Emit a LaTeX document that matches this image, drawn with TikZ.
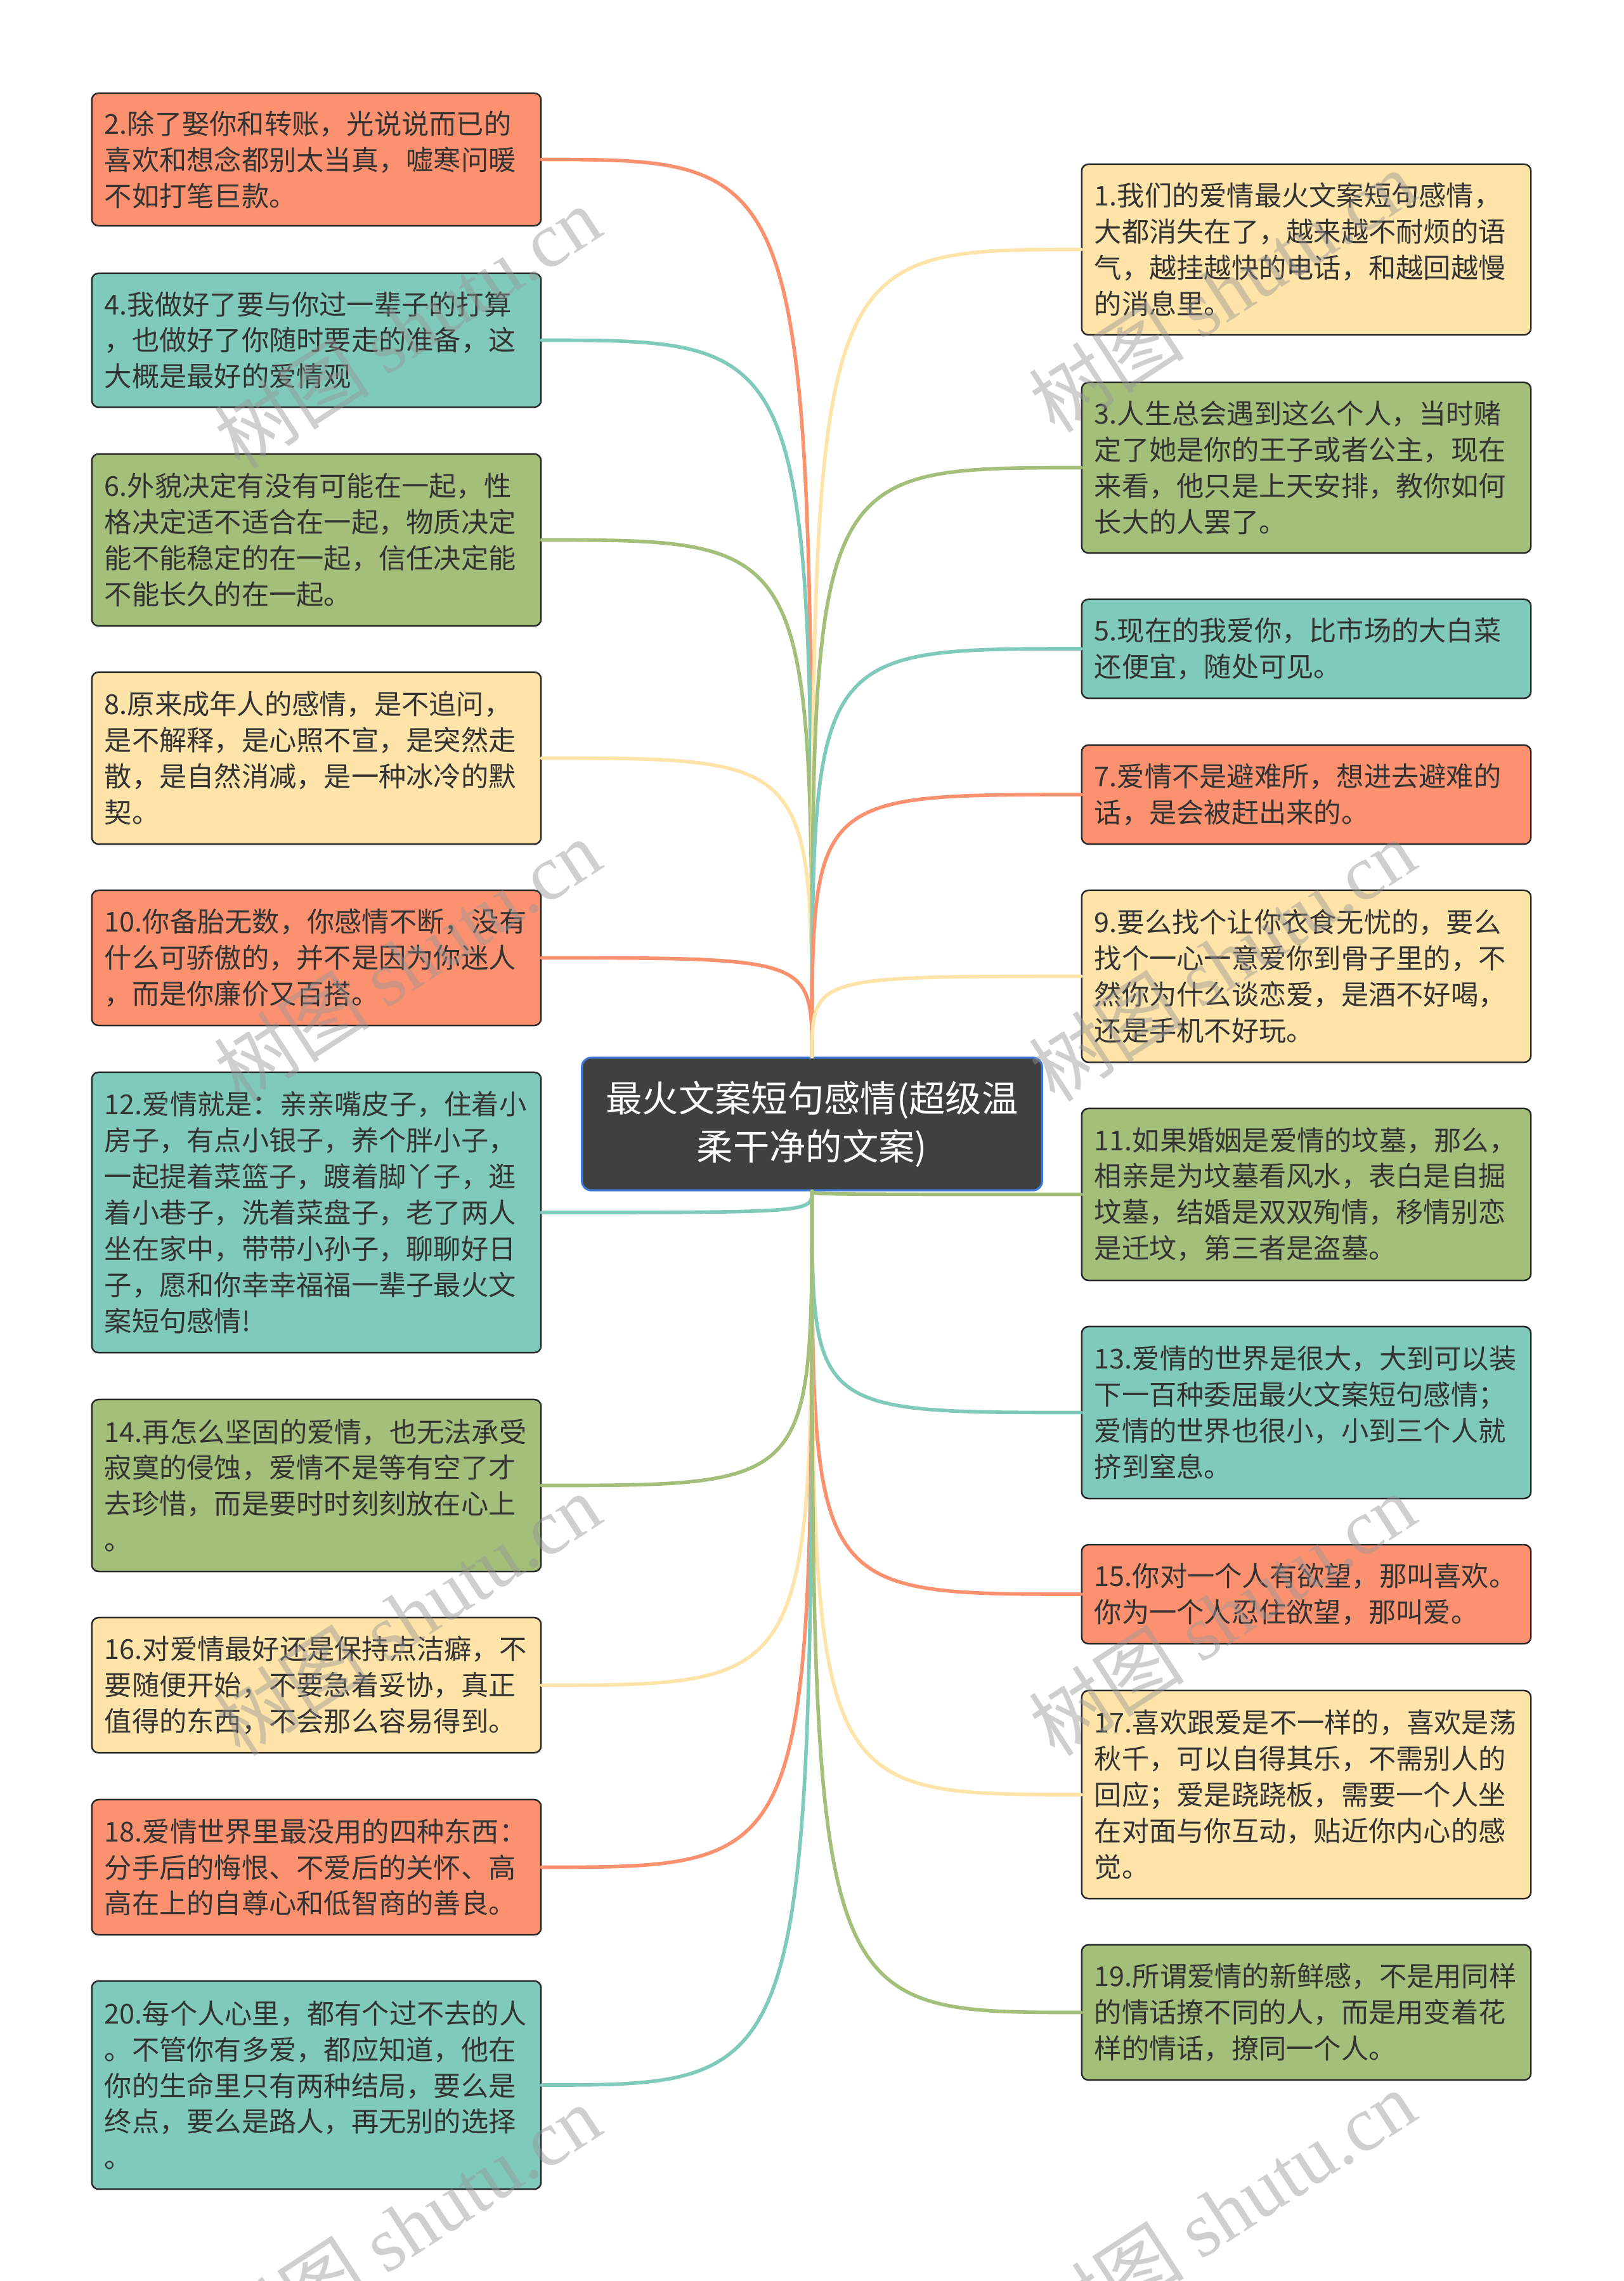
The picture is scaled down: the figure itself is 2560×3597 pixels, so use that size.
\documentclass[tikz,border=0pt]{standalone}
\usepackage{fontspec}
\setmainfont{Noto Sans CJK SC}
\newfontfamily\wmlatin{Liberation Serif}
\definecolor{cSal}{RGB}{252,145,112}
\definecolor{cTeal}{RGB}{128,202,188}
\definecolor{cGreen}{RGB}{163,191,122}
\definecolor{cYel}{RGB}{255,228,170}
\definecolor{boxline}{RGB}{40,40,40}
\definecolor{boxtext}{RGB}{51,51,51}
\definecolor{centerfill}{RGB}{64,64,64}
\definecolor{centerline}{RGB}{60,120,216}
\definecolor{wmgray}{RGB}{150,150,150}
\begin{document}
\begin{tikzpicture}[x=0.01cm,y=-0.01cm,
  box/.style={draw=boxline, line width=0.7pt, rounded corners=3pt,
    text width=6.68cm, inner xsep=0.2cm, inner ysep=0pt, align=left,
    text=boxtext, font=\fontsize{12.3pt}{16.2pt}\selectfont},
  centerbox/.style={draw=centerline, fill=centerfill, line width=0.9pt,
    rounded corners=4pt, minimum width=7.25cm, minimum height=2.09cm,
    align=center, text=white, font=\fontsize{16.3pt}{21.6pt}\selectfont},
  conn/.style={line width=1.6pt, line cap=round},
  wm/.style={rotate=33, text=wmgray, opacity=0.45,
    font=\fontsize{35pt}{38pt}\selectfont}]
\useasboundingbox[fill=white] (0,0) rectangle (2560,3597);

\node[centerbox] (c) at (1280.5,1772.5) {最火文案短句感情(超级温\\柔干净的文案)};

% left column
\node[box, fill=cSal, minimum height=2.09cm] (b2) at (499,251.5)
 {2.除了娶你和转账，光说说而已的\\喜欢和想念都别太当真，嘘寒问暖\\不如打笔巨款。};
\node[box, fill=cTeal, minimum height=2.11cm] (b4) at (499,536.5)
 {4.我做好了要与你过一辈子的打算\\，也做好了你随时要走的准备，这\\大概是最好的爱情观};
\node[box, fill=cGreen, minimum height=2.71cm] (b6) at (499,851.5)
 {6.外貌决定有没有可能在一起，性\\格决定适不适合在一起，物质决定\\能不能稳定的在一起，信任决定能\\不能长久的在一起。};
\node[box, fill=cYel, minimum height=2.71cm] (b8) at (499,1195.5)
 {8.原来成年人的感情，是不追问，\\是不解释，是心照不宣，是突然走\\散，是自然消减，是一种冰冷的默\\契。};
\node[box, fill=cSal, minimum height=2.13cm] (b10) at (499,1510.5)
 {10.你备胎无数，你感情不断，没有\\什么可骄傲的，并不是因为你迷人\\，而是你廉价又百搭。};
\node[box, fill=cTeal, minimum height=4.42cm] (b12) at (499,1912)
 {12.爱情就是：亲亲嘴皮子，住着小\\房子，有点小银子，养个胖小子，\\一起提着菜篮子，踱着脚丫子，逛\\着小巷子，洗着菜盘子，老了两人\\坐在家中，带带小孙子，聊聊好日\\子，愿和你幸幸福福一辈子最火文\\案短句感情!};
\node[box, fill=cGreen, minimum height=2.71cm] (b14) at (499,2342.5)
 {14.再怎么坚固的爱情，也无法承受\\寂寞的侵蚀，爱情不是等有空了才\\去珍惜，而是要时时刻刻放在心上\\。};
\node[box, fill=cYel, minimum height=2.13cm] (b16) at (499,2657.5)
 {16.对爱情最好还是保持点洁癖，不\\要随便开始，不要急着妥协，真正\\值得的东西，不会那么容易得到。};
\node[box, fill=cSal, minimum height=2.13cm] (b18) at (499,2944.5)
 {18.爱情世界里最没用的四种东西：\\分手后的悔恨、不爱后的关怀、高\\高在上的自尊心和低智商的善良。};
\node[box, fill=cTeal, minimum height=3.28cm] (b20) at (499,3288)
 {20.每个人心里，都有个过不去的人\\。不管你有多爱，都应知道，他在\\你的生命里只有两种结局，要么是\\终点，要么是路人，再无别的选择\\。};

% right column
\node[box, fill=cYel, minimum height=2.69cm] (b1) at (2060,393.5)
 {1.我们的爱情最火文案短句感情，\\大都消失在了，越来越不耐烦的语\\气，越挂越快的电话，和越回越慢\\的消息里。};
\node[box, fill=cGreen, minimum height=2.69cm] (b3) at (2060,737.5)
 {3.人生总会遇到这么个人，当时赌\\定了她是你的王子或者公主，现在\\来看，他只是上天安排，教你如何\\长大的人罢了。};
\node[box, fill=cTeal, minimum height=1.56cm] (b5) at (2060,1023)
 {5.现在的我爱你，比市场的大白菜\\还便宜，随处可见。};
\node[box, fill=cSal, minimum height=1.56cm] (b7) at (2060,1253)
 {7.爱情不是避难所，想进去避难的\\话，是会被赶出来的。};
\node[box, fill=cYel, minimum height=2.71cm] (b9) at (2060,1539.5)
 {9.要么找个让你衣食无忧的，要么\\找个一心一意爱你到骨子里的，不\\然你为什么谈恋爱，是酒不好喝，\\还是手机不好玩。};
\node[box, fill=cGreen, minimum height=2.71cm] (b11) at (2060,1883.5)
 {11.如果婚姻是爱情的坟墓，那么，\\相亲是为坟墓看风水，表白是自掘\\坟墓，结婚是双双殉情，移情别恋\\是迁坟，第三者是盗墓。};
\node[box, fill=cTeal, minimum height=2.71cm] (b13) at (2060,2227.5)
 {13.爱情的世界是很大，大到可以装\\下一百种委屈最火文案短句感情；\\爱情的世界也很小，小到三个人就\\挤到窒息。};
\node[box, fill=cSal, minimum height=1.56cm] (b15) at (2060,2514)
 {15.你对一个人有欲望，那叫喜欢。\\你为一个人忍住欲望，那叫爱。};
\node[box, fill=cYel, minimum height=3.28cm] (b17) at (2060,2830)
 {17.喜欢跟爱是不一样的，喜欢是荡\\秋千，可以自得其乐，不需别人的\\回应；爱是跷跷板，需要一个人坐\\在对面与你互动，贴近你内心的感\\觉。};
\node[box, fill=cGreen, minimum height=2.13cm] (b19) at (2060,3173.5)
 {19.所谓爱情的新鲜感，不是用同样\\的情话撩不同的人，而是用变着花\\样的情话，撩同一个人。};

% connectors
\foreach \b/\col in {b2/cSal,b4/cTeal,b6/cGreen,b8/cYel,b10/cSal}
  \draw[conn, draw=\col] (c.north) .. controls (c.north |- \b.east) .. (\b.east);
\foreach \b/\col in {b12/cTeal,b14/cGreen,b16/cYel,b18/cSal,b20/cTeal}
  \draw[conn, draw=\col] (c.south) .. controls (c.south |- \b.east) .. (\b.east);
\foreach \b/\col in {b1/cYel,b3/cGreen,b5/cTeal,b7/cSal,b9/cYel}
  \draw[conn, draw=\col] (c.north) .. controls (c.north |- \b.west) .. (\b.west);
\foreach \b/\col in {b11/cGreen,b13/cTeal,b15/cSal,b17/cYel,b19/cGreen}
  \draw[conn, draw=\col] (c.south) .. controls (c.south |- \b.west) .. (\b.west);

% watermarks
\node[wm] (w1) at (642,516) {树图 {\wmlatin shutu.cn}};
\node[wm] (w2) at (1927,459) {树图 {\wmlatin shutu.cn}};
\node[wm] (w3) at (642,1514) {树图 {\wmlatin shutu.cn}};
\node[wm] (w4) at (1927,1514) {树图 {\wmlatin shutu.cn}};
\node[wm] (w5) at (642,2546) {树图 {\wmlatin shutu.cn}};
\node[wm] (w6) at (1927,2546) {树图 {\wmlatin shutu.cn}};
\node[wm] (w7) at (642,3510) {树图 {\wmlatin shutu.cn}};
\node[wm] (w8) at (1927,3487) {树图 {\wmlatin shutu.cn}};
\end{tikzpicture}
\end{document}
